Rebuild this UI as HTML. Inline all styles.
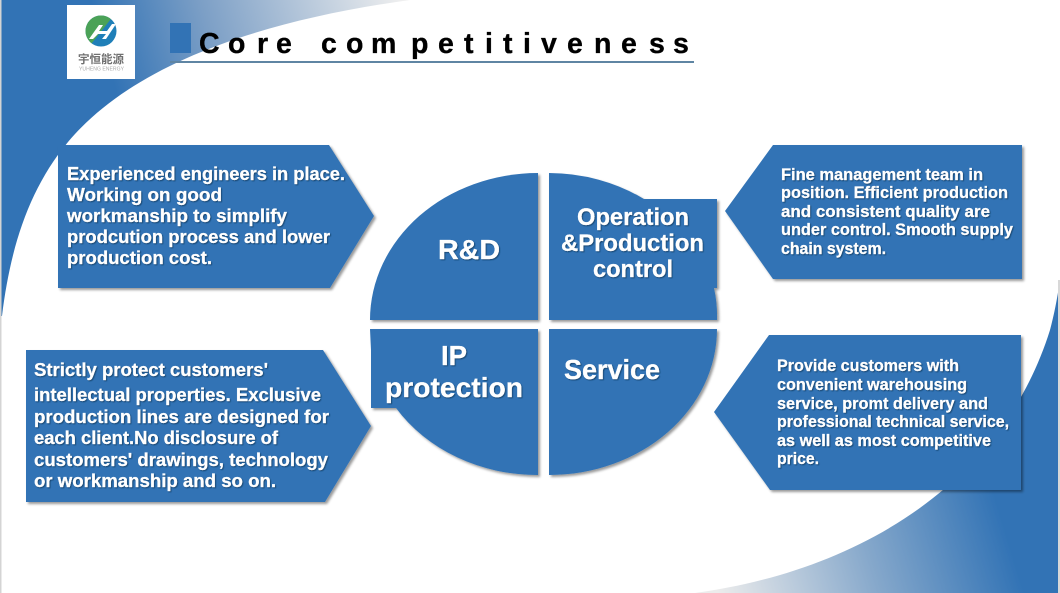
<!DOCTYPE html>
<html><head><meta charset="utf-8"><style>
html,body{margin:0;padding:0;background:#fff}
svg{display:block}
text{font-family:"Liberation Sans","Noto Sans CJK SC",sans-serif;font-weight:bold}
.w{fill:#fff;stroke:#fff;stroke-width:.25;filter:url(#ts)}
.b{font-size:18px}
.tr{font-size:16.5px}
</style></head><body>
<svg width="1060" height="593" viewBox="0 0 1060 593" xmlns="http://www.w3.org/2000/svg">
<defs>
<linearGradient id="g1" gradientUnits="userSpaceOnUse" x1="110" y1="70" x2="400" y2="-10">
<stop offset="0" stop-color="#3273b5"/><stop offset=".35" stop-color="#7c9fc6"/><stop offset="1" stop-color="#efefef"/></linearGradient>
<linearGradient id="g2" gradientUnits="userSpaceOnUse" x1="720" y1="600" x2="1015" y2="510">
<stop offset="0" stop-color="#ececec"/><stop offset=".5" stop-color="#86a8cb"/><stop offset=".95" stop-color="#3273b5"/></linearGradient>
<filter id="sh" x="-5%" y="-5%" width="112%" height="112%"><feDropShadow dx="2" dy="2" stdDeviation="1.3" flood-color="#000" flood-opacity=".4"/></filter>
<filter id="ts" x="-5%" y="-20%" width="110%" height="150%"><feDropShadow dx="1" dy="1" stdDeviation=".6" flood-color="#103a60" flood-opacity=".8"/></filter>
<clipPath id="lc"><circle cx="101" cy="31" r="15.5"/></clipPath>
</defs>
<rect width="1060" height="593" fill="#fff"/>
<path d="M0,0 L410,0 C250,22 130,68 68,142 C28,190 10,250 2,316 L0,316Z" fill="url(#g1)"/>
<path d="M695,593 C850,572 1000,490 1050,330 C1054,315 1057,300 1060,280 L1060,593Z" fill="url(#g2)"/>
<rect x="0" y="0" width="1.5" height="593" fill="#d4d4d4"/>
<rect x="1058" y="280" width="2" height="313" fill="#d8d8d8"/>

<!-- logo -->
<rect x="67" y="5" width="68" height="74" fill="#fff"/>
<g clip-path="url(#lc)">
<rect x="85" y="15" width="33" height="33" fill="#1f7fb8"/>
<polygon points="85,15 114,15 88,48 85,48" fill="#4ba257"/>
<path d="M89,39 L99,25 L103,25 L99,31 L107,31 L112,24 L116,24 L106,39 L102,39 L106,34 L98,34 L93,39Z" fill="#fff"/>
</g>
<text x="78" y="63" font-size="11.5" fill="#707070" textLength="46" lengthAdjust="spacingAndGlyphs">宇恒能源</text>
<text x="79" y="70.5" font-size="5.5" fill="#aaa" style="font-weight:normal" textLength="45" lengthAdjust="spacingAndGlyphs">YUHENG ENERGY</text>

<!-- title -->
<rect x="170" y="23" width="21" height="30" fill="#3273b5"/>
<text y="53" font-size="28.5" fill="#000" stroke="#000" stroke-width=".35" x="199 228 257 276 321 346 371 411 438 464 485 503 523 541 567 594 621 649 673">Corecompetitiveness</text>
<rect x="170" y="61" width="524" height="2" fill="#5f85a3"/>

<!-- arrows -->
<g fill="#3273b5" filter="url(#sh)">
<polygon points="58,145 329,145 374,216 330,288 58,288"/>
<polygon points="26,350 323,350 371,426 325,502 26,502"/>
<polygon points="725,211 773,145 1022,145 1022,279 773,279"/>
<polygon points="714,412 769,335 1021,335 1021,490 770,490"/>
<!-- quadrants -->
<path d="M538,173 L538,320 L370,320 A168,147 0 0 1 538,173Z"/>
<path d="M549,173 A168,147 0 0 1 644,199 L717,199 L717,288 L714,288 A168,147 0 0 1 717,320 L549,320Z"/>
<path d="M549,329 L717,329 A168,146 0 0 1 549,475Z"/>
<path d="M370,329 L538,329 L538,475 A168,146 0 0 1 396,408 L371,408 L371,350Z"/>
</g>

<!-- top-left text -->
<g class="w b">
<text x="67" y="180" textLength="278" lengthAdjust="spacingAndGlyphs">Experienced engineers in place.</text>
<text x="67" y="201" textLength="155" lengthAdjust="spacingAndGlyphs">Working on good</text>
<text x="67" y="222" textLength="220" lengthAdjust="spacingAndGlyphs">workmanship to simplify</text>
<text x="67" y="243" textLength="263" lengthAdjust="spacingAndGlyphs">prodcution process and lower</text>
<text x="67" y="264" textLength="145" lengthAdjust="spacingAndGlyphs">production cost.</text>
</g>
<!-- bottom-left text -->
<g class="w b">
<text x="34" y="376" textLength="234" lengthAdjust="spacingAndGlyphs">Strictly protect customers'</text>
<text x="34" y="401" textLength="287" lengthAdjust="spacingAndGlyphs">intellectual properties. Exclusive</text>
<text x="34" y="423" textLength="295" lengthAdjust="spacingAndGlyphs">production lines are designed for</text>
<text x="34" y="444" textLength="244" lengthAdjust="spacingAndGlyphs">each client.No disclosure of</text>
<text x="34" y="466" textLength="294" lengthAdjust="spacingAndGlyphs">customers' drawings, technology</text>
<text x="34" y="487" textLength="242" lengthAdjust="spacingAndGlyphs">or workmanship and so on.</text>
</g>
<!-- top-right text -->
<g class="w tr">
<text x="781" y="180" textLength="202" lengthAdjust="spacingAndGlyphs">Fine management team in</text>
<text x="781" y="198" textLength="227" lengthAdjust="spacingAndGlyphs">position. Efficient production</text>
<text x="781" y="217" textLength="209" lengthAdjust="spacingAndGlyphs">and consistent quality are</text>
<text x="781" y="235" textLength="232" lengthAdjust="spacingAndGlyphs">under control. Smooth supply</text>
<text x="781" y="254" textLength="105" lengthAdjust="spacingAndGlyphs">chain system.</text>
</g>
<!-- bottom-right text -->
<g class="w tr">
<text x="777" y="371" textLength="182" lengthAdjust="spacingAndGlyphs">Provide customers with</text>
<text x="777" y="390" textLength="190" lengthAdjust="spacingAndGlyphs">convenient warehousing</text>
<text x="777" y="409" textLength="211" lengthAdjust="spacingAndGlyphs">service, promt delivery and</text>
<text x="777" y="427" textLength="232" lengthAdjust="spacingAndGlyphs">professional technical service,</text>
<text x="777" y="446" textLength="214" lengthAdjust="spacingAndGlyphs">as well as most competitive</text>
<text x="777" y="464" textLength="42" lengthAdjust="spacingAndGlyphs">price.</text>
</g>
<!-- centre labels -->
<g class="w">
<text x="438" y="259" font-size="28" textLength="62" lengthAdjust="spacingAndGlyphs">R&amp;D</text>
<text x="577" y="225" font-size="24" textLength="112" lengthAdjust="spacingAndGlyphs">Operation</text>
<text x="561" y="251" font-size="24" textLength="143" lengthAdjust="spacingAndGlyphs">&amp;Production</text>
<text x="593" y="277" font-size="24" textLength="80" lengthAdjust="spacingAndGlyphs">control</text>
<text x="441" y="365" font-size="28" textLength="26" lengthAdjust="spacingAndGlyphs">IP</text>
<text x="385" y="397" font-size="28" textLength="138" lengthAdjust="spacingAndGlyphs">protection</text>
<text x="564" y="379" font-size="28" textLength="96" lengthAdjust="spacingAndGlyphs">Service</text>
</g>
</svg>
</body></html>
